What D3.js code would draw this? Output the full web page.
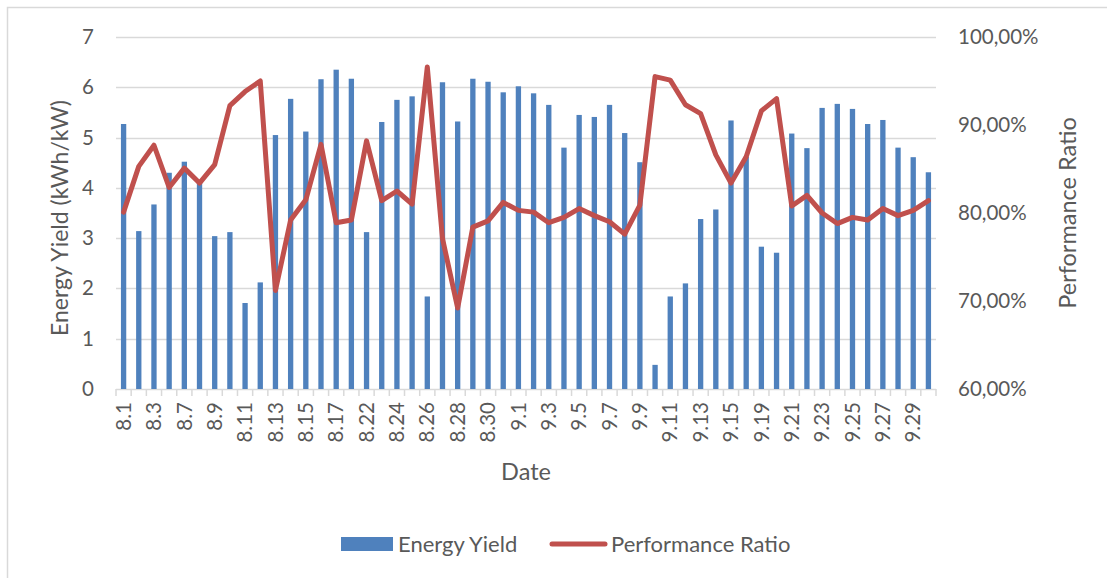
<!DOCTYPE html>
<html>
<head>
<meta charset="utf-8">
<script src="https://cdn.jsdelivr.net/npm/d3@7"></script>
<style>
  body { margin: 0; background: #fff; }
  text { font-family: Lato, "Open Sans", sans-serif; fill: #595959; }
</style>
</head>
<body>
<div id="chart"></div>
<script>
var width = 1107,
    height = 578;

// dates (only every other one is labelled on the axis)
const dates = ["8.1", "8.2", "8.3", "8.6", "8.7", "8.8", "8.9", "8.10", "8.11", "8.12",
    "8.13", "8.14", "8.15", "8.16", "8.17", "8.18", "8.22", "8.23", "8.24", "8.25",
    "8.26", "8.27", "8.28", "8.29", "8.30", "8.31", "9.1", "9.2", "9.3", "9.4",
    "9.5", "9.6", "9.7", "9.8", "9.9", "9.10", "9.11", "9.12", "9.13", "9.14",
    "9.15", "9.16", "9.19", "9.20", "9.21", "9.22", "9.23", "9.24", "9.25", "9.26",
    "9.27", "9.28", "9.29", "9.30"];

// energy yield, kWh/kW
const energyYield = [5.27, 3.14, 3.67, 4.30, 4.52, 4.16, 3.04, 3.12, 1.71, 2.12,
    5.05, 5.77, 5.12, 6.16, 6.35, 6.17, 3.12, 5.31, 5.75, 5.82,
    1.84, 6.10, 5.32, 6.17, 6.11, 5.90, 6.02, 5.88, 5.65, 4.80,
    5.45, 5.41, 5.65, 5.09, 4.51, 0.48, 1.84, 2.10, 3.38, 3.57,
    5.34, 4.62, 2.83, 2.71, 5.08, 4.79, 5.59, 5.67, 5.57, 5.27,
    5.35, 4.80, 4.61, 4.31];

// performance ratio, %
const perfRatio = [80.1, 85.3, 87.7, 82.9, 85.1, 83.4, 85.5, 92.2, 93.8, 95.0,
    71.2, 79.2, 81.5, 87.8, 78.9, 79.2, 88.2, 81.4, 82.5, 81.0,
    96.6, 77.1, 69.2, 78.4, 79.1, 81.2, 80.3, 80.1, 78.9, 79.5,
    80.5, 79.7, 79.0, 77.6, 80.9, 95.5, 95.1, 92.3, 91.3, 86.6,
    83.4, 86.4, 91.6, 93.0, 80.8, 82.0, 80.0, 78.8, 79.5, 79.2,
    80.5, 79.7, 80.3, 81.4];

const yieldTicks = [0, 1, 2, 3, 4, 5, 6, 7];
const ratioTicks = [60, 70, 80, 90, 100];

const margin = { left: 116, right: 171, top: 37, bottom: 189 };
const x0 = margin.left, x1 = width - margin.right,
    y0 = height - margin.bottom, y1 = margin.top;

const blue = "#4F81BD", red = "#C0504D", grid = "#D9D9D9";

var svg = d3.select("#chart")
    .append("svg")
    .attr("width", width)
    .attr("height", height);

// chart area border
svg.append("rect")
    .attr("x", 7.5).attr("y", 7.5)
    .attr("width", width + 20).attr("height", height + 20)
    .attr("fill", "none")
    .attr("stroke", grid)
    .attr("stroke-width", 1.5);

var x = d3.scaleBand()
    .domain(dates)
    .range([x0, x1])
    .paddingInner(0.65)
    .paddingOuter(0.325);

var xEdge = d3.scaleLinear().domain([0, dates.length]).range([x0, x1]);

var y = d3.scaleLinear().domain([0, 7]).range([y0, y1]);
var yR = d3.scaleLinear().domain([60, 100]).range([y0, y1]);

// gridlines
svg.append("g")
    .selectAll("line")
    .data(yieldTicks)
    .join("line")
    .attr("x1", x0).attr("x2", x1)
    .attr("y1", d => Math.round(y(d)) + 0.5)
    .attr("y2", d => Math.round(y(d)) + 0.5)
    .attr("stroke", grid)
    .attr("stroke-width", 1.5);

// category tick marks
svg.append("g")
    .selectAll("line")
    .data(d3.range(dates.length + 1))
    .join("line")
    .attr("x1", d => xEdge(d)).attr("x2", d => xEdge(d))
    .attr("y1", y0).attr("y2", y0 + 7)
    .attr("stroke", grid)
    .attr("stroke-width", 1.5);

// left axis labels
svg.append("g")
    .attr("transform", `translate(${x0 - 22},0)`)
    .call(d3.axisLeft(y).tickValues(yieldTicks).tickSize(0).tickPadding(0)
        .tickFormat(d3.format("d")))
    .call(g => g.select(".domain").remove())
    .selectAll("text")
    .style("font-size", "20.5px");

// right axis labels
svg.append("g")
    .attr("transform", `translate(${x1 + 22},0)`)
    .call(d3.axisRight(yR).tickValues(ratioTicks).tickSize(0).tickPadding(0)
        .tickFormat(d => d3.format(".2f")(d).replace(".", ",") + "%"))
    .call(g => g.select(".domain").remove())
    .selectAll("text")
    .style("font-size", "20.5px");

// bottom axis labels, every other date
svg.append("g")
    .attr("transform", `translate(0,${y0})`)
    .call(d3.axisBottom(x).tickValues(dates.filter((d, i) => i % 2 == 0)).tickSize(0))
    .call(g => g.select(".domain").remove())
    .selectAll("text")
    .style("font-size", "20.5px")
    .attr("text-anchor", "end")
    .attr("dy", "0.35em")
    .attr("transform", "translate(0,13) rotate(-90)")
    .attr("x", 0).attr("y", 0);

// bars
svg.append("g")
    .selectAll("rect")
    .data(dates)
    .join("rect")
    .attr("x", d => x(d))
    .attr("y", (d, i) => y(energyYield[i]))
    .attr("width", x.bandwidth())
    .attr("height", (d, i) => y0 - y(energyYield[i]))
    .attr("fill", blue);

// performance ratio line
var line = d3.line()
    .x((d, i) => x(dates[i]) + x.bandwidth() / 2)
    .y(d => yR(d));

svg.append("path")
    .datum(perfRatio)
    .attr("d", line)
    .attr("fill", "none")
    .attr("stroke", red)
    .attr("stroke-width", 5)
    .attr("stroke-linejoin", "round")
    .attr("stroke-linecap", "round");

// axis titles
svg.append("text")
    .attr("transform", `translate(60,${(y0 + y1) / 2 + 5}) rotate(-90)`)
    .attr("text-anchor", "middle")
    .attr("dy", "0.35em")
    .style("font-size", "23px")
    .text("Energy Yield (kWh/kW)");

svg.append("text")
    .attr("transform", `translate(1068,${(y0 + y1) / 2}) rotate(-90)`)
    .attr("text-anchor", "middle")
    .attr("dy", "0.35em")
    .style("font-size", "23.5px")
    .text("Performance Ratio");

svg.append("text")
    .attr("x", (x0 + x1) / 2)
    .attr("y", 472)
    .attr("text-anchor", "middle")
    .attr("dy", "0.35em")
    .style("font-size", "23.5px")
    .text("Date");

// legend
var legend = svg.append("g");
legend.append("rect")
    .attr("x", 341).attr("y", 537)
    .attr("width", 52).attr("height", 14)
    .attr("fill", blue);
legend.append("text")
    .attr("x", 398).attr("y", 544)
    .attr("dy", "0.35em")
    .style("font-size", "22px")
    .text("Energy Yield");
legend.append("line")
    .attr("x1", 552).attr("x2", 605)
    .attr("y1", 544).attr("y2", 544)
    .attr("stroke", red)
    .attr("stroke-width", 5)
    .attr("stroke-linecap", "round");
legend.append("text")
    .attr("x", 611).attr("y", 544)
    .attr("dy", "0.35em")
    .style("font-size", "22px")
    .text("Performance Ratio");
</script>
</body>
</html>
